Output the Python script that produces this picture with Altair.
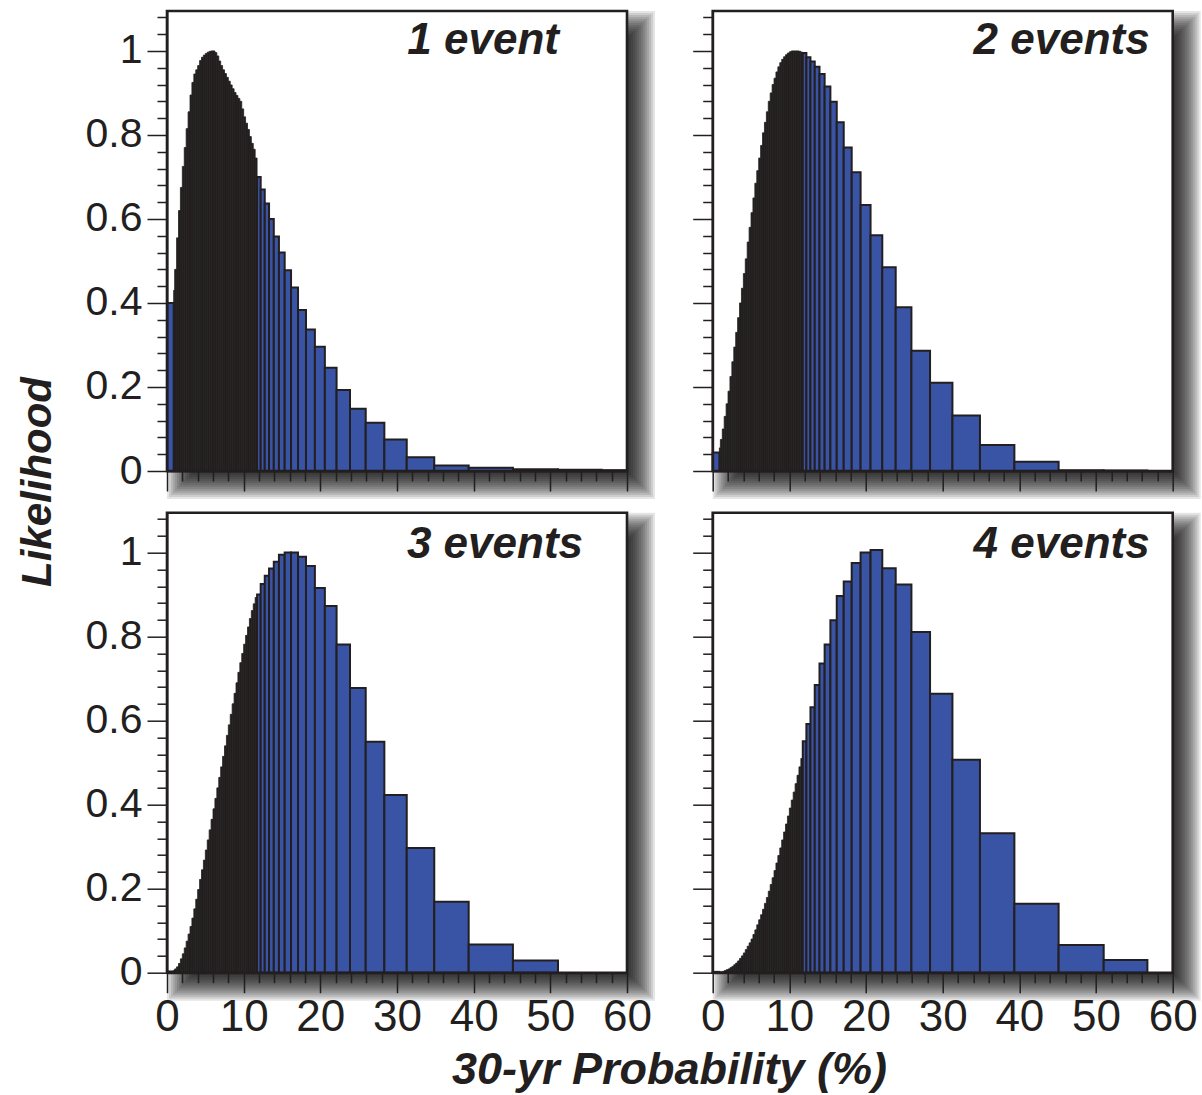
import altair as alt
import pandas as pd

# ------------------------------------------------------------------ data
panel_labels = ["1 event", "2 events", "3 events", "4 events"]

# bin edges along the x axis (30-yr probability, %)
first_edges = [0.0, 0.87]
black_edges = [0.87] + [round(1.0 + 0.25 * i, 2) for i in range(44)]
blue_edges = [11.75, 12.22, 12.75, 13.31, 13.93, 14.60, 15.35, 16.18, 17.09, 18.13,
              19.29, 20.59, 22.12, 23.87, 25.92, 28.35, 31.27, 34.86, 39.35, 45.12,
              51.0, 56.7, 60.0]

first_vals = [0.40, 0.044, 0.003, 0.002]

black_vals = [
    [0.43, 0.48, 0.555, 0.62, 0.675, 0.725, 0.77, 0.815, 0.855, 0.895,
     0.925, 0.945, 0.955, 0.965, 0.977, 0.985, 0.99, 0.994, 0.997, 0.999,
     1.0, 1.0, 0.996, 0.988, 0.976, 0.965, 0.955, 0.946, 0.937, 0.928,
     0.919, 0.91, 0.901, 0.894, 0.887, 0.88, 0.862, 0.843, 0.828, 0.813,
     0.796, 0.78, 0.766, 0.745],
    [0.055, 0.075, 0.10, 0.13, 0.16, 0.19, 0.225, 0.26, 0.295, 0.33,
     0.365, 0.40, 0.435, 0.47, 0.505, 0.545, 0.58, 0.615, 0.65, 0.685,
     0.715, 0.745, 0.775, 0.805, 0.83, 0.855, 0.88, 0.90, 0.92, 0.935,
     0.95, 0.962, 0.972, 0.98, 0.986, 0.991, 0.995, 0.998, 1.0, 1.0,
     1.0, 1.0, 0.999, 0.997],
    [0.006, 0.009, 0.014, 0.022, 0.033, 0.045, 0.059, 0.075, 0.092, 0.11,
     0.13, 0.152, 0.175, 0.198, 0.222, 0.245, 0.268, 0.292, 0.316, 0.34,
     0.365, 0.39, 0.415, 0.44, 0.465, 0.49, 0.515, 0.54, 0.565, 0.59,
     0.615, 0.64, 0.665, 0.69, 0.715, 0.738, 0.76, 0.782, 0.803, 0.823,
     0.843, 0.862, 0.878, 0.893],
    [0.001, 0.002, 0.003, 0.005, 0.007, 0.009, 0.012, 0.015, 0.019, 0.023,
     0.028, 0.034, 0.04, 0.047, 0.055, 0.063, 0.071, 0.08, 0.091, 0.102,
     0.114, 0.126, 0.138, 0.151, 0.165, 0.179, 0.194, 0.21, 0.226, 0.243,
     0.261, 0.279, 0.297, 0.316, 0.335, 0.354, 0.373, 0.392, 0.411, 0.43,
     0.45, 0.47, 0.49, 0.51],
]

blue_vals = [
    [0.70, 0.67, 0.637, 0.60, 0.558, 0.52, 0.478, 0.437, 0.383, 0.337,
     0.296, 0.246, 0.193, 0.148, 0.115, 0.075, 0.033, 0.013, 0.008, 0.004,
     0.003, 0.002],
    [0.995, 0.985, 0.975, 0.962, 0.945, 0.915, 0.879, 0.83, 0.77, 0.711,
     0.633, 0.561, 0.485, 0.39, 0.286, 0.21, 0.132, 0.062, 0.022, 0.002,
     0.001, 0.0],
    [0.90, 0.925, 0.945, 0.962, 0.978, 0.995, 1.0, 1.0, 0.99, 0.968,
     0.916, 0.873, 0.781, 0.678, 0.55, 0.423, 0.297, 0.169, 0.067, 0.029,
     0.0, 0.0],
    [0.551, 0.592, 0.632, 0.685, 0.736, 0.781, 0.839, 0.897, 0.931, 0.975,
     1.0, 1.006, 0.963, 0.924, 0.811, 0.664, 0.507, 0.332, 0.164, 0.066,
     0.030, 0.0],
]

x_ticks = list(range(0, 61, 2))
y_ticks = [round(0.04 * i, 2) for i in range(28)]

# ------------------------------------------------------------------ style
W, H = 460, 460
INK = "#231f20"
BLUE = "#3a54a5"
SANS = "Liberation Sans"
dummy = pd.DataFrame({"k": [0]})


def bins_df(edges, vals):
    df = pd.DataFrame({"x0": edges[:-1], "x1": edges[1:], "v": vals})
    return df[df["v"] > 0]


def x_axis(show):
    test = "datum.value % 10 == 0"
    return alt.Axis(
        values=x_ticks, title=None, grid=False,
        tickSize={"condition": {"test": test, "value": 20}, "value": 10},
        tickColor=INK, tickWidth=1.5, domainColor=INK, domainWidth=2,
        labels=show, labelExpr=f"{test} ? datum.label : ''",
        labelFont=SANS, labelFontSize={"condition": {"test": test, "value": 44}, "value": 1},
        labelColor=INK, labelPadding=3,
        labelFlush=False, labelOverlap=False, labelBound=False, zindex=1,
    )


def y_axis(show):
    test = "abs(datum.value * 5 - round(datum.value * 5)) < 0.001"
    return alt.Axis(
        values=y_ticks, title=None, grid=False,
        tickSize={"condition": {"test": test, "value": 20}, "value": 10},
        tickColor=INK, tickWidth=1.5, domainColor=INK, domainWidth=2,
        labels=show, labelExpr=f"{test} ? format(datum.value, '~g') : ''",
        labelFont=SANS, labelFontSize={"condition": {"test": test, "value": 41}, "value": 1},
        labelColor=INK, labelPadding=5,
        labelFlush=False, labelOverlap=False, labelBound=False, zindex=1,
    )


def shadow_layers():
    layers = []
    D, R, N = 14, 14, 14
    step = 2.0 * R / N
    for k in range(N):
        ins = k * step
        layers.append(
            alt.Chart(dummy).mark_rect(fill="black", opacity=0.1).encode(
                x=alt.value(D - R + ins), x2=alt.value(W + D + R - ins),
                y=alt.value(D - R + ins), y2=alt.value(H + D + R - ins),
            )
        )
    return layers


def panel(i, show_x, show_y, lab_x, lab_y, extras=()):
    xs = alt.Scale(domain=[0, 60], nice=False, zero=False)
    ys = alt.Scale(domain=[0, 1.095], nice=False)
    xa, ya = x_axis(show_x), y_axis(show_y)

    white = alt.Chart(dummy).mark_rect(fill="white").encode(
        x=alt.value(0), x2=alt.value(W), y=alt.value(0), y2=alt.value(H))
    black = alt.Chart(bins_df(black_edges, black_vals[i])).mark_rect(
        fill=INK, stroke=INK, strokeWidth=0.8).encode(
        x=alt.X("x0:Q", scale=xs, axis=xa), x2="x1:Q",
        y=alt.Y("v:Q", scale=ys, axis=ya), y2=alt.datum(0))
    blue_df = pd.concat([bins_df(first_edges, [first_vals[i]]),
                         bins_df(blue_edges, blue_vals[i])])
    blue = alt.Chart(blue_df).mark_rect(
        fill=BLUE, stroke=INK, strokeWidth=2.0).encode(
        x=alt.X("x0:Q", scale=xs, axis=xa), x2="x1:Q",
        y=alt.Y("v:Q", scale=ys, axis=ya), y2=alt.datum(0))
    label = alt.Chart(dummy).mark_text(
        font=SANS, fontSize=44, fontWeight="bold", fontStyle="italic",
        align="right", baseline="alphabetic", color=INK).encode(
        x=alt.value(lab_x), y=alt.value(lab_y), text=alt.value(panel_labels[i]))
    frame = alt.Chart(dummy).mark_rect(filled=False, stroke=INK, strokeWidth=2.6).encode(
        x=alt.value(0), x2=alt.value(W), y=alt.value(0), y2=alt.value(H))
    return alt.layer(*shadow_layers(), white, black, blue, label, frame, *extras).properties(
        width=W, height=H)


y_title = alt.Chart(dummy).mark_text(
    font=SANS, fontSize=42, fontWeight="bold", fontStyle="italic", angle=270,
    align="center", baseline="alphabetic", color=INK).encode(
    x=alt.value(-116), y=alt.value(471), text=alt.value("Likelihood"))
x_title = alt.Chart(dummy).mark_text(
    font=SANS, fontSize=45, fontWeight="bold", fontStyle="italic",
    align="center", baseline="alphabetic", color=INK).encode(
    x=alt.value(502.5), y=alt.value(571), text=alt.value("30-yr Probability (%)"))

p1 = panel(0, False, True, 392, 43, [y_title])
p2 = panel(1, False, False, 437, 43)
p3 = panel(2, True, True, 416, 45, [x_title])
p4 = panel(3, True, False, 437, 45.6)

chart = alt.concat(
    p1, p2, p3, p4, columns=2,
    spacing={"row": 41.7, "column": 85.7}, bounds="flush",
).properties(
    padding={"left": 16, "top": 9, "right": 0, "bottom": 0}
).configure_view(stroke=None).configure(background="white")

chart.save("out.html", embed_options={"renderer": "svg", "actions": False})
